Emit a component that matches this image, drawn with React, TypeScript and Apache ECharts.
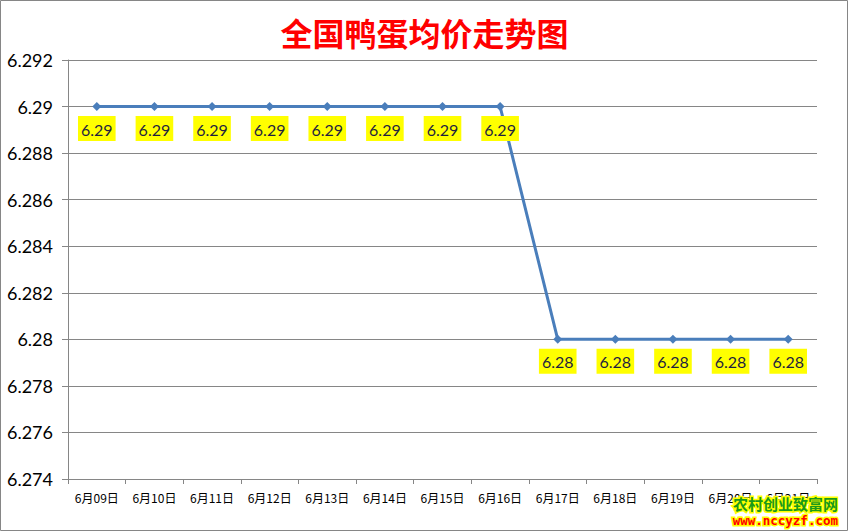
import React, { useRef, useEffect } from "react";
import * as echarts from "echarts";

const dates = [
  "6月09日", "6月10日", "6月11日", "6月12日", "6月13日", "6月14日", "6月15日",
  "6月16日", "6月17日", "6月18日", "6月19日", "6月20日", "6月21日",
];
const prices = [6.29, 6.29, 6.29, 6.29, 6.29, 6.29, 6.29, 6.29, 6.28, 6.28, 6.28, 6.28, 6.28];
const yMin = 6.274;
const yMax = 6.292;
const yStep = 0.002;

const App = function () {
  const chart = useRef<HTMLDivElement>(null);
  useEffect(() => {
    if (!chart.current) return;
    let myChart = echarts.init(chart.current, null, { renderer: "svg" });
    let option = {
      animation: false,
      backgroundColor: "#fff",
      title: {
        text: "全国鸭蛋均价走势图",
        left: "center",
        top: 11,
        textStyle: {
          color: "#ff0000",
          fontSize: 32,
          fontWeight: "bold",
          fontFamily: "Noto Sans CJK SC",
        },
      },
      grid: { left: 68, right: 32, top: 60, bottom: 53 },
      xAxis: {
        type: "category",
        data: dates,
        boundaryGap: true,
        axisLine: { lineStyle: { color: "#868686" } },
        axisTick: { show: true, length: 5, lineStyle: { color: "#868686" } },
        axisLabel: {
          color: "#000",
          fontSize: 12,
          margin: 12,
          interval: 0,
          fontFamily: "Noto Sans CJK SC",
        },
      },
      yAxis: {
        type: "value",
        min: yMin,
        max: yMax,
        interval: yStep,
        axisLine: { show: true, lineStyle: { color: "#868686" } },
        axisTick: { show: true, length: 6, lineStyle: { color: "#868686" } },
        splitLine: { lineStyle: { color: "#868686", width: 1 } },
        axisLabel: {
          color: "#000",
          fontSize: 18,
          margin: 15,
          fontFamily: "Lato",
          formatter: (v: number) => parseFloat(v.toFixed(3)).toString(),
        },
      },
      series: [
        {
          type: "line",
          data: prices,
          symbol: "diamond",
          symbolSize: 9,
          lineStyle: { color: "#4a7ebb", width: 3 },
          itemStyle: { color: "#4a7ebb" },
          label: {
            show: true,
            position: "bottom",
            distance: 5,
            backgroundColor: "#ffff00",
            padding: [5, 3, 4, 3],
            color: "#1f1f3f",
            fontSize: 16,
            fontFamily: "Lato",
            formatter: (p: any) => p.value.toFixed(2),
          },
        },
      ],
      graphic: [
        {
          type: "rect",
          shape: { x: 0.5, y: 0.5, width: 847, height: 530 },
          style: { fill: "none", stroke: "#868686", lineWidth: 1 },
          silent: true,
        },
        {
          type: "text",
          x: 838,
          y: 503,
          style: {
            text: "农村创业致富网",
            textAlign: "right",
            textVerticalAlign: "middle",
            fill: "#1a9a1a",
            stroke: "#ffff00",
            lineWidth: 3,
            font: "bold 15px 'Noto Sans CJK SC'",
          },
          z: 100,
        },
        {
          type: "text",
          x: 838,
          y: 520,
          style: {
            text: "www.nccyzf.com",
            textAlign: "right",
            textVerticalAlign: "middle",
            fill: "#ff0000",
            stroke: "#ffff00",
            lineWidth: 3,
            font: "bold 12.5px 'DejaVu Sans Mono'",
          },
          z: 100,
        },
      ],
    };
    myChart.setOption(option);
    return () => {
      myChart.dispose();
    };
  }, []);
  return (
    <div
      ref={chart}
      style={{ position: "absolute", left: 0, top: 0, width: 849, height: 532 }}
    ></div>
  );
};
export default App;
